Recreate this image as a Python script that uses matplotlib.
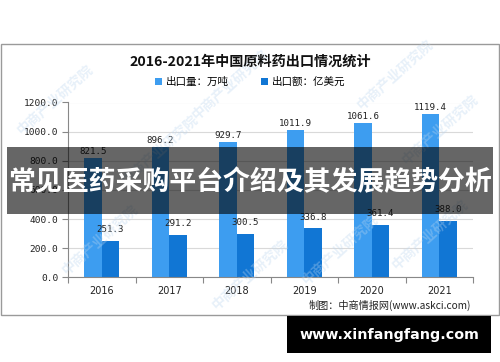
import matplotlib
matplotlib.use("Agg")
import matplotlib.pyplot as plt
import numpy as np
from matplotlib.patches import Rectangle

plt.rcParams['font.family'] = ['Noto Sans CJK SC', 'DejaVu Sans']

years = ['2016', '2017', '2018', '2019', '2020', '2021']
volume = [821.5, 896.2, 929.7, 1011.9, 1061.6, 1119.4]   # 出口量：万吨
value = [251.3, 291.2, 300.5, 336.8, 361.4, 388.0]        # 出口额：亿美元
yticks = [0, 200, 400, 600, 800, 1000, 1200]

title = '2016-2021年中国原料药出口情况统计'
legend_labels = ['出口量：万吨', '出口额：亿美元']
source = '制图：中商情报网(www.askci.com)'
banner = '常见医药采购平台介绍及其发展趋势分析'
site = 'www.xinfangfang.com'
watermark = '中商产业研究院'

c_light = '#3d9df0'
c_dark = '#1176d4'

W, H = 500, 362
fig = plt.figure(figsize=(W / 100, H / 100), dpi=100)

def fx(px):
    return px / W

def fy(py):
    return 1 - py / H

# outer frame
fig.patches.append(Rectangle((fx(0.5), fy(315)), fx(498.5), fy(44) - fy(315),
                             transform=fig.transFigure, fill=False,
                             edgecolor='#9a9a9a', linewidth=1.0, zorder=0))

ax = fig.add_axes([fx(68), fy(277.3), fx(473) - fx(68), fy(102.5) - fy(277.3)])
x = np.arange(len(years))
bw = 0.26
b1 = ax.bar(x - bw / 2, volume, bw, color=c_light, zorder=2, label=legend_labels[0])
b2 = ax.bar(x + bw / 2, value, bw, color=c_dark, zorder=2, label=legend_labels[1])

for xi, v in zip(x - bw / 2, volume):
    ax.text(xi, v + 12, f'{v:.1f}', ha='center', va='bottom', fontsize=6.6,
            family='DejaVu Sans Mono', color='#222222')
for xi, v in zip(x + bw / 2, value):
    ax.text(xi, v + 45, f'{v:.1f}', ha='center', va='bottom', fontsize=6.6,
            family='DejaVu Sans Mono', color='#222222')

ax.set_ylim(0, 1200)
ax.set_xlim(-0.5, len(years) - 0.5)
ax.set_yticks(yticks)
ax.set_yticklabels([f'{t:.1f}' for t in yticks], family='DejaVu Sans Mono', fontsize=6.8, color='#222222')
ax.set_xticks(x)
ax.set_xticklabels(years, family='DejaVu Sans', fontsize=7, color='#222222')
ax.set_xticks(np.arange(-0.5, len(years)), minor=True)
ax.tick_params(axis='x', which='major', length=0, pad=6)
ax.tick_params(axis='x', which='minor', length=4, color='#888888', width=0.8)
ax.tick_params(axis='y', length=4, color='#888888', width=0.8, pad=3)
ax.grid(axis='y', color='#d9d9d9', linewidth=0.8, zorder=0)
ax.set_axisbelow(True)
for s in ['top', 'right']:
    ax.spines[s].set_visible(False)
for s in ['left', 'bottom']:
    ax.spines[s].set_color('#888888')
    ax.spines[s].set_linewidth(0.8)
ax.patch.set_alpha(0)

fig.text(0.5, fy(62), title, ha='center', va='center', fontsize=10.2,
         fontweight='bold', color='#111111')

leg = fig.legend(handles=[b1, b2], labels=legend_labels, loc='center',
                 bbox_to_anchor=(fx(250), fy(82)), ncol=2, frameon=False,
                 fontsize=7.6, handlelength=0.7, handleheight=0.7,
                 handletextpad=0.35, columnspacing=3.0)

fig.text(fx(471), fy(305), source, ha='right', va='center', fontsize=7.3, color='#222222')

# watermarks
for (wx, wy) in [(55, 100), (230, 85), (395, 75), (100, 240), (250, 275), (430, 235), (340, 250), (160, 150), (440, 130)]:
    fig.text(fx(wx), fy(wy), watermark, rotation=42, ha='center', va='center',
             fontsize=10, color='#bcd6ef', alpha=0.35, fontweight='bold', zorder=1)

# banner overlay
fig.patches.append(Rectangle((fx(7), fy(214)), fx(493) - fx(7), fy(147) - fy(214),
                             transform=fig.transFigure, facecolor='black', alpha=0.6,
                             edgecolor='none', zorder=5))
fig.text(fx(250), fy(182), banner, ha='center', va='center', fontsize=19.4,
         fontweight='bold', color='white', zorder=6)

# site box
fig.patches.append(Rectangle((fx(287), fy(353)), fx(491) - fx(287), fy(316) - fy(353),
                             transform=fig.transFigure, facecolor='black',
                             edgecolor='none', zorder=5))
fig.text(fx(389), fy(335), site, ha='center', va='center', fontsize=10.3,
         fontweight='bold', color='white', family='DejaVu Sans', zorder=6)

fig.savefig('out.png', dpi=100)
